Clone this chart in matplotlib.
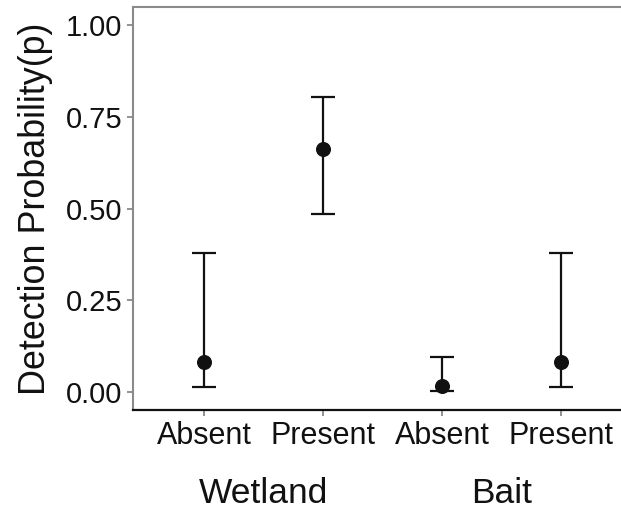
import matplotlib
matplotlib.use("Agg")
import matplotlib.pyplot as plt
import matplotlib.transforms as mtransforms

# Detection probability estimates with 95% confidence limits
conditions = ["Absent", "Present", "Absent", "Present"]
groups = ["Wetland", "Bait"]
estimate = [0.082, 0.663, 0.015, 0.082]
lower = [0.014, 0.485, 0.002, 0.014]
upper = [0.379, 0.804, 0.096, 0.379]
y_ticks = [0.00, 0.25, 0.50, 0.75, 1.00]
y_tick_labels = ["0.00", "0.25", "0.50", "0.75", "1.00"]

plt.rcParams["font.family"] = ["Liberation Sans", "DejaVu Sans"]

W, H = 621, 512
fig = plt.figure(figsize=(W / 100, H / 100), dpi=100)
ax_left, ax_right, ax_top, ax_bottom = 133, 632, 7, 410
ax_w = ax_right - ax_left
ax = fig.add_axes([ax_left / W, 1 - ax_bottom / H,
                   ax_w / W, (ax_bottom - ax_top) / H])

x = list(range(1, len(estimate) + 1))
yerr = [[e - l for e, l in zip(estimate, lower)],
        [u - e for e, u in zip(estimate, upper)]]
ax.errorbar(x, estimate, yerr=yerr, fmt="o", color="#111111",
            ecolor="#111111", elinewidth=1.6, capsize=8.5, capthick=1.6,
            markersize=9.8, zorder=3)

ax.set_xlim(0.4, 4.6)
ax.set_ylim(-0.05, 1.05)
ax.set_xticks(x)
ax.set_xticklabels(conditions, fontsize=22, color="#111111")
ax.set_yticks(y_ticks)
ax.set_yticklabels(y_tick_labels, fontsize=21, color="#111111")
ax.tick_params(axis="both", colors="#7f7f7f", length=4, width=1.2,
               labelcolor="#111111")
ax.tick_params(axis="x", pad=4)
ax.tick_params(axis="y", pad=3.5)

ax.spines["right"].set_visible(False)
ax.spines["left"].set_color("#8a8a8a")
ax.spines["left"].set_linewidth(1.5)
ax.spines["top"].set_color("#8a8a8a")
ax.spines["top"].set_linewidth(1.5)
ax.spines["bottom"].set_color("#111111")
ax.spines["bottom"].set_linewidth(1.6)

ax.set_ylabel("Detection Probability(p)", fontsize=25.8, color="#111111")
ax.yaxis.set_label_coords((53 - ax_left) / ax_w, 0.5)

# Group labels beneath each pair of conditions
trans = mtransforms.blended_transform_factory(ax.transData, fig.transFigure)
for i, g in enumerate(groups):
    ax.text(2 * i + 1.5, 1 - 503 / H, g, transform=trans, ha="center",
            va="baseline", fontsize=25.5, color="#111111")

fig.savefig("out.png", dpi=100)
